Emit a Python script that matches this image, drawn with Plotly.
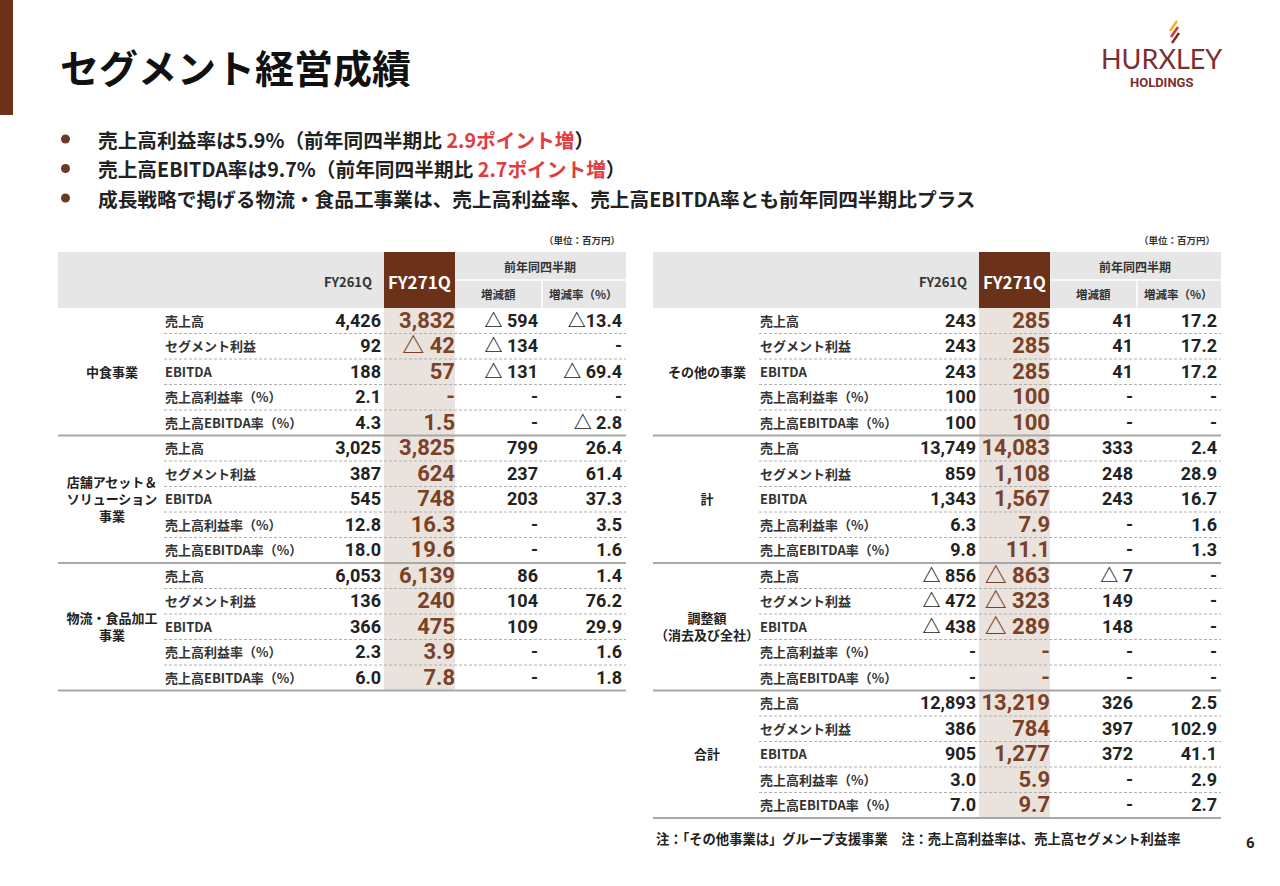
import plotly.graph_objects as go

# ---- データ ----
items = ["売上高", "セグメント利益", "EBITDA", "売上高利益率（%）", "売上高EBITDA率（%）"]

left_segments = ["中食事業", "店舗アセット＆<br>ソリューション<br>事業", "物流・食品加工<br>事業"]
left_fy26 = ["4,426", "92", "188", "2.1", "4.3",
             "3,025", "387", "545", "12.8", "18.0",
             "6,053", "136", "366", "2.3", "6.0"]
left_fy27 = ["3,832", "△ 42", "57", "-", "1.5",
             "3,825", "624", "748", "16.3", "19.6",
             "6,139", "240", "475", "3.9", "7.8"]
left_diff = ["△ 594", "△ 134", "△ 131", "-", "-",
             "799", "237", "203", "-", "-",
             "86", "104", "109", "-", "-"]
left_rate = ["△13.4", "-", "△ 69.4", "-", "△ 2.8",
             "26.4", "61.4", "37.3", "3.5", "1.6",
             "1.4", "76.2", "29.9", "1.6", "1.8"]

right_segments = ["その他の事業", "計", "調整額<br>（消去及び全社）", "合計"]
right_fy26 = ["243", "243", "243", "100", "100",
              "13,749", "859", "1,343", "6.3", "9.8",
              "△ 856", "△ 472", "△ 438", "-", "-",
              "12,893", "386", "905", "3.0", "7.0"]
right_fy27 = ["285", "285", "285", "100", "100",
              "14,083", "1,108", "1,567", "7.9", "11.1",
              "△ 863", "△ 323", "△ 289", "-", "-",
              "13,219", "784", "1,277", "5.9", "9.7"]
right_diff = ["41", "41", "41", "-", "-",
              "333", "248", "243", "-", "-",
              "△ 7", "149", "148", "-", "-",
              "326", "397", "372", "-", "-"]
right_rate = ["17.2", "17.2", "17.2", "-", "-",
              "2.4", "28.9", "16.7", "1.6", "1.3",
              "-", "-", "-", "-", "-",
              "2.5", "102.9", "41.1", "2.9", "2.7"]

header_cols = ["FY261Q", "FY271Q", "前年同四半期", "増減額", "増減率（%）"]
unit_label = "（単位：百万円）"

title = "セグメント経営成績"
bullets = [
    "売上高利益率は5.9%（前年同四半期比 <span style='color:#e03c41'>2.9ポイント増</span>）",
    "売上高EBITDA率は9.7%（前年同四半期比 <span style='color:#e03c41'>2.7ポイント増</span>）",
    "成長戦略で掲げる物流・食品工事業は、売上高利益率、売上高EBITDA率とも前年同四半期比プラス",
]
footnote = "注：「その他事業は」グループ支援事業　注：売上高利益率は、売上高セグメント利益率"
page_no = "6"

# ---- スタイル ----
JP = "Noto Sans CJK JP"
NUM = "Roboto, Noto Sans CJK JP"
BROWN = "#6b3119"
NUM_BROWN = "#7b4126"
BEIGE = "#e9e2dd"
GRAY = "#e6e6e6"
TXT = "#222222"
LOGO = "#7d2f2b"

HDR_TOP = 252
ROW_TOP = 308
ROW_H = 25.5
TEXT_DY = 1.5     # 文字のベースライン補正
TW = 568          # 表の幅
PER_SEG = len(items)


def txt(fig, x, y, s, size, color=TXT, anchor="left", bold=True, family=JP, yanchor="middle"):
    fig.add_annotation(x=x, y=y, xref="x", yref="y", text=s, showarrow=False,
                       xanchor=anchor, yanchor=yanchor, align="center",
                       font=dict(family=family, size=size, color=color,
                                 weight="bold" if bold else "normal"))


def col_trace(x, ys, texts, size, color, pos, family=NUM):
    return go.Scatter(x=[x] * len(ys), y=ys, text=texts, mode="text",
                      textposition=pos, hoverinfo="skip", showlegend=False,
                      textfont=dict(family=family, size=size, color=color, weight="bold"))


def add_table(fig, x0, segments, fy26, fy27, diff, rate):
    n = len(fy26)
    bottom = ROW_TOP + ROW_H * n
    # 背景
    fig.add_shape(type="rect", x0=x0, x1=x0 + TW, y0=HDR_TOP, y1=ROW_TOP,
                  fillcolor=GRAY, line_width=0, layer="below")
    fig.add_shape(type="rect", x0=x0 + 326, x1=x0 + 397, y0=HDR_TOP, y1=ROW_TOP,
                  fillcolor=BROWN, line_width=0, layer="below")
    fig.add_shape(type="rect", x0=x0 + 326, x1=x0 + 397, y0=ROW_TOP, y1=bottom,
                  fillcolor=BEIGE, line_width=0, layer="below")
    fig.add_shape(type="line", x0=x0 + 397, x1=x0 + TW, y0=280, y1=280,
                  line=dict(color="white", width=1.5))
    fig.add_shape(type="line", x0=x0 + 484, x1=x0 + 484, y0=280, y1=ROW_TOP,
                  line=dict(color="white", width=1.5))
    # 罫線
    for k in range(1, n + 1):
        y = ROW_TOP + ROW_H * k
        if k % PER_SEG == 0:
            fig.add_shape(type="line", x0=x0, x1=x0 + TW, y0=y, y1=y,
                          line=dict(color="#a8a8a8", width=2))
        else:
            fig.add_shape(type="line", x0=x0 + 106, x1=x0 + TW, y0=y, y1=y,
                          line=dict(color="#b0b0b0", width=1, dash="3px,2px"))
    # ヘッダー
    txt(fig, x0 + 290, 281, header_cols[0], 13, color="#333333", anchor="center")
    txt(fig, x0 + 361.5, 281, header_cols[1], 17, color="white", anchor="center")
    txt(fig, x0 + 482, 266, header_cols[2], 12, color="#333333", anchor="center")
    txt(fig, x0 + 440, 294, header_cols[3], 11.5, color="#333333", anchor="center")
    txt(fig, x0 + 525, 294, header_cols[4], 11.5, color="#333333", anchor="center")
    txt(fig, x0 + 564, 240, unit_label, 9.5, color="#333333", anchor="right")

    ys = [ROW_TOP + ROW_H * (i + 0.5) + TEXT_DY for i in range(n)]
    seg_ys = [ROW_TOP + ROW_H * PER_SEG * (g + 0.5) + TEXT_DY for g in range(len(segments))]
    fig.add_trace(col_trace(x0 + 54, seg_ys, segments, 13, TXT, "middle center", JP))
    fig.add_trace(col_trace(x0 + 107, ys, items * len(segments), 13, "#333333", "middle right", JP))
    fig.add_trace(col_trace(x0 + 323, ys, fy26, 18, TXT, "middle left"))
    fig.add_trace(col_trace(x0 + 397, ys, fy27, 22, NUM_BROWN, "middle left"))
    fig.add_trace(col_trace(x0 + 480, ys, diff, 18, TXT, "middle left"))
    fig.add_trace(col_trace(x0 + 564, ys, rate, 18, TXT, "middle left"))


fig = go.Figure()

add_table(fig, 58, left_segments, left_fy26, left_fy27, left_diff, left_rate)
add_table(fig, 653, right_segments, right_fy26, right_fy27, right_diff, right_rate)

# 左端の帯
fig.add_shape(type="rect", x0=0, x1=13, y0=0, y1=115, fillcolor=BROWN, line_width=0)

# タイトル・箇条書き
txt(fig, 58, 66, title, 39, color="#111111")
for i, b in enumerate(bullets):
    y = 139 + 29.5 * i
    fig.add_shape(type="circle", x0=61, x1=70, y0=y - 4.5, y1=y + 4.5,
                  fillcolor="#6b3a25", line_width=0)
    txt(fig, 96, y, b, 19.7, color=TXT)

# ロゴ
for (xa, ya, xb, yb), c in zip([(1177, 21, 1170, 31), (1178, 27, 1171, 37), (1179, 33, 1172, 43)],
                               ["#f2b51d", "#d0343c", "#7a2e2a"]):
    fig.add_shape(type="line", x0=xa, y0=ya, x1=xb, y1=yb, line=dict(color=c, width=2.5))
txt(fig, 1161, 58, "HURXLEY", 27, color=LOGO, anchor="center", bold=False, family="Lato")
txt(fig, 1161, 82, "HOLDINGS", 13, color=LOGO, anchor="center", family="Roboto")

# 注記・ページ番号
txt(fig, 654, 838, footnote, 13.3, color=TXT)
txt(fig, 1250, 843, page_no, 15, color=TXT, anchor="center", family="Roboto")

fig.update_layout(
    width=1280,
    height=886,
    margin=dict(l=0, r=0, t=0, b=0),
    paper_bgcolor="white",
    plot_bgcolor="white",
    xaxis=dict(range=[0, 1280], visible=False, fixedrange=True),
    yaxis=dict(range=[886, 0], visible=False, fixedrange=True),
    showlegend=False,
)

fig.write_html("out.html", config={"displayModeBar": False},
               post_script="document.body.style.margin='0';")
